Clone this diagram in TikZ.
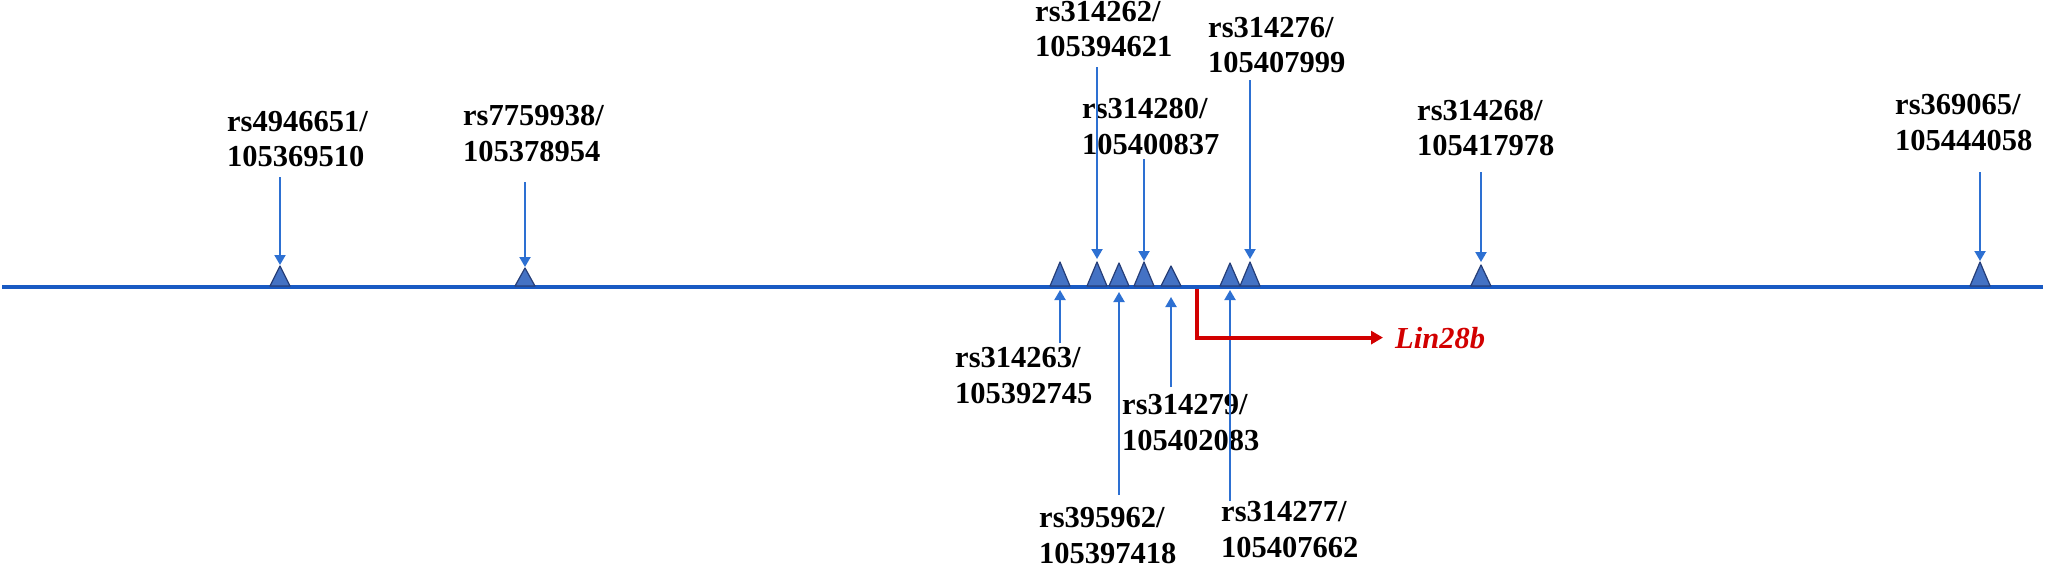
\documentclass[tikz,border=0pt]{standalone}
\usepackage{fontspec}
\setmainfont{Liberation Serif}
\usetikzlibrary{arrows.meta,calc}
\definecolor{lineblue}{RGB}{25,90,195}
\definecolor{arrblue}{RGB}{45,112,210}
\definecolor{trifill}{RGB}{68,114,196}
\definecolor{triedge}{RGB}{38,62,120}
\definecolor{genered}{RGB}{210,0,0}
\begin{document}
\begin{tikzpicture}[x=1pt,y=-1pt,
  lbl/.style={anchor=base west,inner sep=0pt,align=left,font=\fontsize{30.5}{35.5}\selectfont\bfseries},
  snp/.style={draw=arrblue,line width=2pt,-{Triangle[length=10pt,width=11pt]}},
  tri/.style={fill=trifill,draw=triedge,line width=1.2pt,line join=round},
  chrom/.style={draw=lineblue,line width=4.5pt},
  tssarrow/.style={draw=genered,line width=4pt,-{Triangle[length=12pt,width=13pt]}},
  gene/.style={anchor=base west,inner sep=0pt,text=genered,font=\fontsize{30.5}{35.5}\selectfont\bfseries\itshape}]
\useasboundingbox (0,0) rectangle (2048,567);

% chromosome line
\coordinate (L) at (2,287);
\coordinate (R) at (2043,287);
\draw[chrom] (L) -- (R);

% SNP triangles: number / x / apex y
\foreach \n/\x/\ay in {1/280/266,2/525/268,3/1060/262,4/1097/262,5/1119/263,6/1144/262,7/1171/266,8/1230/263,9/1250/262,10/1481/265,11/1980/262}{
  \coordinate (m\n) at (\x,286);
  \coordinate (a\n) at (\x,\ay);
  \draw[tri] ($(m\n)+(-10,0)$) -- (a\n) -- ($(m\n)+(10,0)$) -- cycle;
}

% labels above (anchored at the baseline of the last line)
\node[lbl] (l1) at (227,167) {rs4946651/\\105369510};
\node[lbl] (l2) at (463,161) {rs7759938/\\105378954};
\node[lbl] (l4) at (1035,57) {rs314262/\\105394621};
\node[lbl] (l6) at (1082,154) {rs314280/\\105400837};
\node[lbl] (l9) at (1208,73) {rs314276/\\105407999};
\node[lbl] (l10) at (1417,156) {rs314268/\\105417978};
\node[lbl] (l11) at (1895,150) {rs369065/\\105444058};

% labels below
\node[lbl] (l3) at (955,403) {rs314263/\\105392745};
\node[lbl] (l5) at (1039,563) {rs395962/\\105397418};
\node[lbl] (l7) at (1122,450) {rs314279/\\105402083};
\node[lbl] (l8) at (1221,557) {rs314277/\\105407662};

% arrows from labels above
\draw[snp,shorten <=10pt] (l1.south -| a1) -- ($(a1)+(0,-1)$);
\draw[snp,shorten <=21pt] (l2.south -| a2) -- ($(a2)+(0,-1)$);
\draw[snp,shorten <=10pt] (l4.south -| a4) -- ($(a4)+(0,-3)$);
\draw[snp,shorten <=5pt] (l6.south -| a6) -- ($(a6)+(0,-1)$);
\draw[snp,shorten <=7pt] (l9.south -| a9) -- ($(a9)+(0,-3)$);
\draw[snp,shorten <=16pt] (l10.south -| a10) -- ($(a10)+(0,-3)$);
\draw[snp,shorten <=22pt] (l11.south -| a11) -- ($(a11)+(0,-1)$);

% arrows from labels below
\coordinate (b3) at (1060,290);
\coordinate (b5) at (1119,292);
\coordinate (b7) at (1171,297);
\coordinate (b8) at (1230,290);
\draw[snp,shorten <=4pt] (l3.north -| b3) -- (b3);
\draw[snp,shorten <=12pt] (l5.north -| b5) -- (b5);
\draw[snp,shorten <=7pt] (l7.north -| b7) -- (b7);
\draw[snp] (l8.north -| b8) -- (b8);

% transcription start and gene
\node[gene] (lin) at (1395,348) {Lin28b};
\coordinate (tss) at (1197,289);
\draw[tssarrow,shorten >=12pt] (tss) |- (lin.west);
\end{tikzpicture}
\end{document}
